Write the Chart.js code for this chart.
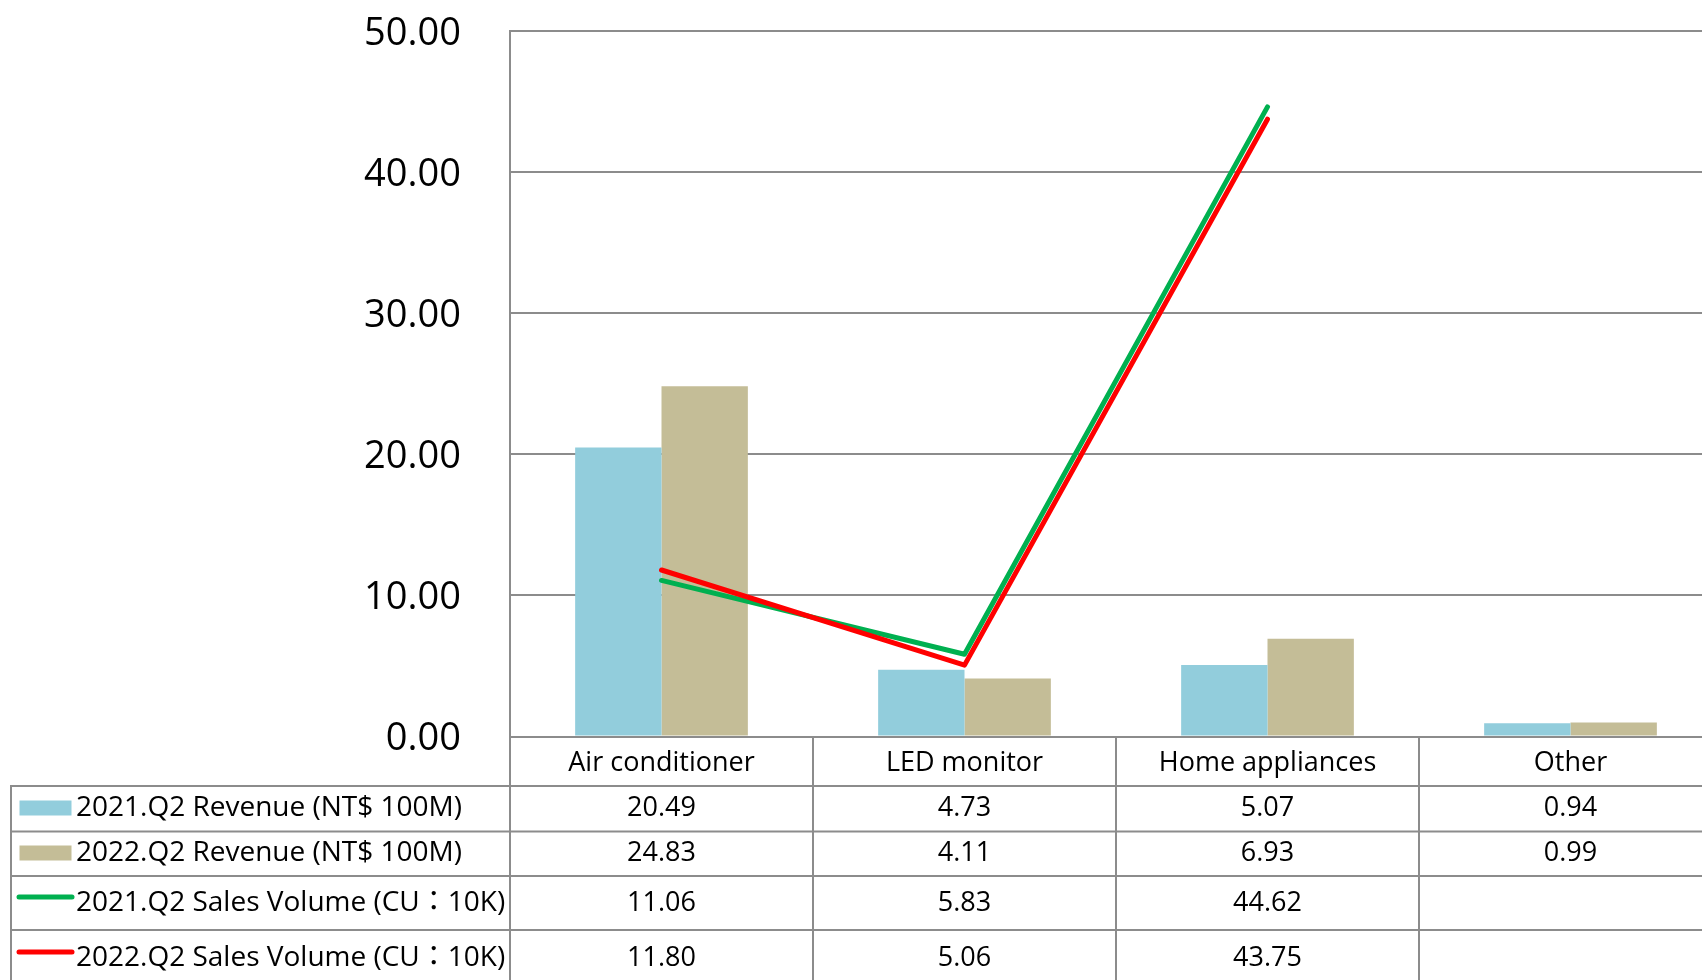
<!DOCTYPE html>
<html>
<head>
<meta charset="utf-8">
<script src="https://cdn.jsdelivr.net/npm/chart.js@4/dist/chart.umd.min.js"></script>
<style>
  html, body { margin: 0; padding: 0; background: #fff; overflow: hidden; }
  #wrap { position: relative; width: 1722px; height: 980px; }
</style>
</head>
<body>
<div id="wrap"><canvas id="c" width="1722" height="980"></canvas></div>
<script>
const categories = ['Air conditioner', 'LED monitor', 'Home appliances', 'Other'];
const seriesNames = ['2021.Q2 Revenue (NT$ 100M)', '2022.Q2 Revenue (NT$ 100M)', '2021.Q2 Sales Volume (CU：10K)', '2022.Q2 Sales Volume (CU：10K)'];
const revenue2021 = [20.49, 4.73, 5.07, 0.94];
const revenue2022 = [24.83, 4.11, 6.93, 0.99];
const volume2021 = [11.06, 5.83, 44.62, null];
const volume2022 = [11.80, 5.06, 43.75, null];
const yTicks = { min: 0, max: 50, step: 10 };

const FONT = "'Open Sans', 'Noto Sans CJK TC', sans-serif";
const GRID = '#8c8c8c';
const colors = ['#92CDDC', '#C4BD97', '#00B050', '#FF0000'];

const tablePlugin = {
  id: 'dataTable',
  afterDraw(chart) {
    const ctx = chart.ctx;
    const xs = chart.scales.x;
    const area = chart.chartArea;
    const H = chart.height, W = chart.width;
    const catW = area.width / categories.length;
    const rowLines = [786, 831.5, 876, 930];
    const rowCenters = [808, 853, 903, 958];
    const tableLeft = 11;
    ctx.save();
    ctx.strokeStyle = GRID;
    ctx.lineWidth = 2;
    ctx.beginPath();
    rowLines.forEach(y => { ctx.moveTo(tableLeft, y); ctx.lineTo(W, y); });
    ctx.moveTo(tableLeft, rowLines[0] - 1); ctx.lineTo(tableLeft, H);
    for (let i = 0; i < categories.length; i++) {
      const bx = xs.getPixelForValue(i) - catW / 2;
      ctx.moveTo(bx, area.bottom); ctx.lineTo(bx, H);
    }
    ctx.stroke();

    const rows = [revenue2021, revenue2022, volume2021, volume2022];
    ctx.textBaseline = 'middle';
    rows.forEach((vals, r) => {
      const cy = rowCenters[r];
      if (r < 2) {
        ctx.fillStyle = colors[r];
        ctx.fillRect(19.5, cy - 7.5, 52, 15);
      } else {
        ctx.strokeStyle = colors[r];
        ctx.lineWidth = 5;
        ctx.lineCap = 'round';
        ctx.beginPath();
        ctx.moveTo(19, cy - 6); ctx.lineTo(72, cy - 6);
        ctx.stroke();
      }
      ctx.fillStyle = '#000';
      ctx.textAlign = 'left';
      ctx.font = '28px ' + FONT;
      ctx.fillText(seriesNames[r], 76, cy);
      ctx.textAlign = 'center';
      ctx.font = '27px ' + FONT;
      vals.forEach((v, i) => {
        if (v === null || v === undefined) return;
        ctx.fillText(v.toFixed(2), xs.getPixelForValue(i), cy);
      });
    });
    ctx.restore();
  }
};

new Chart(document.getElementById('c'), {
  data: {
    labels: categories,
    datasets: [
      { type: 'bar', label: seriesNames[0], data: revenue2021, backgroundColor: colors[0], borderWidth: 0,
        categoryPercentage: 0.57, barPercentage: 1, order: 2 },
      { type: 'bar', label: seriesNames[1], data: revenue2022, backgroundColor: colors[1], borderWidth: 0,
        categoryPercentage: 0.57, barPercentage: 1, order: 2 },
      { type: 'line', label: seriesNames[2], data: volume2021, borderColor: colors[2], borderWidth: 5,
        pointRadius: 0, borderCapStyle: 'round', borderJoinStyle: 'round', tension: 0, order: 1 },
      { type: 'line', label: seriesNames[3], data: volume2022, borderColor: colors[3], borderWidth: 5,
        pointRadius: 0, borderCapStyle: 'round', borderJoinStyle: 'round', tension: 0, order: 0 }
    ]
  },
  options: {
    responsive: false,
    animation: false,
    devicePixelRatio: 1,
    layout: { padding: { top: 31, left: 0, right: 0, bottom: 0 } },
    plugins: { legend: { display: false }, tooltip: { enabled: false } },
    scales: {
      x: {
        offset: true,
        grid: { display: false },
        border: { display: true, color: GRID, width: 2 },
        ticks: { color: '#000', font: { family: FONT, size: 27 }, padding: 3, maxRotation: 0, autoSkip: false },
        afterFit(s) { s.height = 980 - 736.5; s.paddingLeft = 0; s.paddingRight = 0; }
      },
      y: {
        min: yTicks.min, max: yTicks.max,
        grid: { color: GRID, lineWidth: 2, drawTicks: false },
        border: { display: true, color: GRID, width: 2 },
        ticks: { stepSize: yTicks.step, color: '#000', font: { family: FONT, size: 38 }, padding: 49,
                 labelOffset: 3, callback: v => Number(v).toFixed(2) },
        afterFit(s) { s.width = 510; s.paddingTop = 0; s.paddingBottom = 0; }
      }
    }
  },
  plugins: [tablePlugin]
});
</script>
</body>
</html>
